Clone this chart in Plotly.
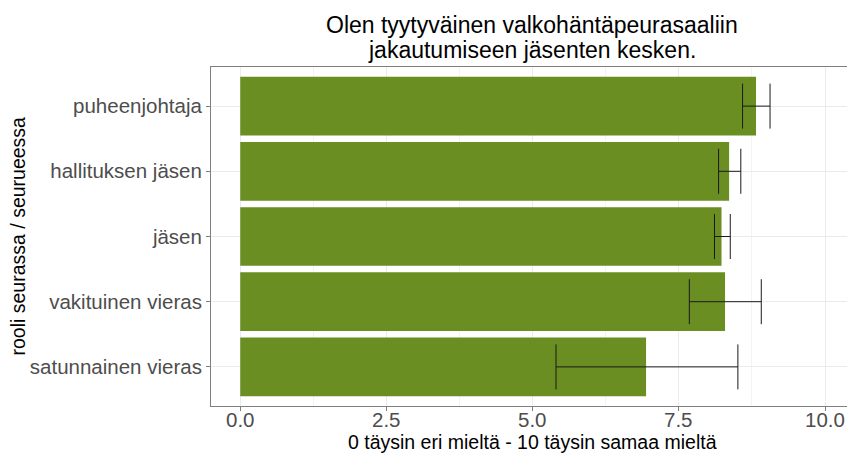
import plotly.graph_objects as go

# Roles (top to bottom) and satisfaction scores with interval bounds
roles = ["puheenjohtaja", "hallituksen jäsen", "jäsen", "vakituinen vieras", "satunnainen vieras"]
means = [8.82, 8.36, 8.23, 8.29, 6.94]
lower = [8.59, 8.18, 8.11, 7.68, 5.40]
upper = [9.06, 8.56, 8.38, 8.91, 8.51]

x_ticks = [0, 2.5, 5, 7.5, 10]
x_tick_text = ["0.0", "2.5", "5.0", "7.5", "10.0"]

title_lines = ["Olen tyytyväinen valkohäntäpeurasaaliin", "jakautumiseen jäsenten kesken."]

W, H = 847, 453
L, T, B = 211, 67, 47
FONT = "Liberation Sans, Arial, sans-serif"

plus = [u - m for u, m in zip(upper, means)]
minus = [m - l for m, l in zip(means, lower)]

fig = go.Figure()
fig.add_trace(go.Bar(
    x=means,
    y=roles,
    orientation="h",
    width=0.9,
    marker=dict(color="#6b8e23", line=dict(width=0)),
    error_x=dict(
        type="data",
        symmetric=False,
        array=plus,
        arrayminus=minus,
        color="#1a1a1a",
        thickness=1,
        width=22.5,
    ),
    hoverinfo="skip",
))

fig.update_layout(
    width=W,
    height=H,
    margin=dict(l=L, r=0, t=T, b=B),
    paper_bgcolor="white",
    plot_bgcolor="white",
    showlegend=False,
    font=dict(family=FONT),
)

fig.update_xaxes(
    range=[-0.5, (W - 240) / 58.5],
    tickvals=x_ticks,
    showticklabels=False,
    ticks="outside",
    ticklen=4,
    tickcolor="#7f7f7f",
    showgrid=True,
    gridcolor="#ebebeb",
    gridwidth=1,
    minor=dict(dtick=1.25, tick0=1.25, showgrid=True, gridcolor="#f3f3f3", gridwidth=0.6),
    showline=True,
    linecolor="#7f7f7f",
    linewidth=1,
    mirror=True,
    zeroline=False,
)

fig.update_yaxes(
    categoryorder="array",
    categoryarray=roles[::-1],
    range=[-0.6, len(roles) - 0.4],
    tickfont=dict(size=20.5, color="#4d4d4d", family=FONT),
    ticks="outside",
    ticklen=4,
    tickcolor="#7f7f7f",
    showgrid=True,
    gridcolor="#ebebeb",
    gridwidth=1,
    showline=True,
    linecolor="#7f7f7f",
    linewidth=1,
    zeroline=False,
)

pw = W - L
ph = H - T - B


def paper_y(px):
    """Convert a pixel row (from the top of the figure) to paper y."""
    return (H - B - px) / ph


# x tick labels, placed on the x scale just below the tick marks
for tv, tt in zip(x_ticks, x_tick_text):
    fig.add_annotation(
        text=tt,
        xref="x", yref="paper",
        x=tv, y=paper_y(419),
        xanchor="center", yanchor="middle",
        showarrow=False,
        font=dict(size=20.5, color="#4d4d4d", family=FONT),
    )

# plot title, two centred lines over the full panel
for line, row in zip(title_lines, [25, 50]):
    fig.add_annotation(
        text=line,
        xref="paper", yref="paper",
        x=(532 - L) / pw, y=paper_y(row),
        xanchor="center", yanchor="middle",
        showarrow=False,
        font=dict(size=23, color="black", family=FONT),
    )

# x axis title
fig.add_annotation(
    text="0 täysin eri mieltä - 10 täysin samaa mieltä",
    xref="paper", yref="paper",
    x=(532 - L) / pw, y=paper_y(442),
    xanchor="center", yanchor="middle",
    showarrow=False,
    font=dict(size=19.5, color="black", family=FONT),
)

# y axis title
fig.add_annotation(
    text="rooli seurassa / seurueessa",
    xref="paper", yref="paper",
    x=-(L - 17) / pw, y=0.5,
    xanchor="center", yanchor="middle",
    textangle=-90,
    showarrow=False,
    font=dict(size=19.5, color="black", family=FONT),
)

fig.write_html("out.html")
